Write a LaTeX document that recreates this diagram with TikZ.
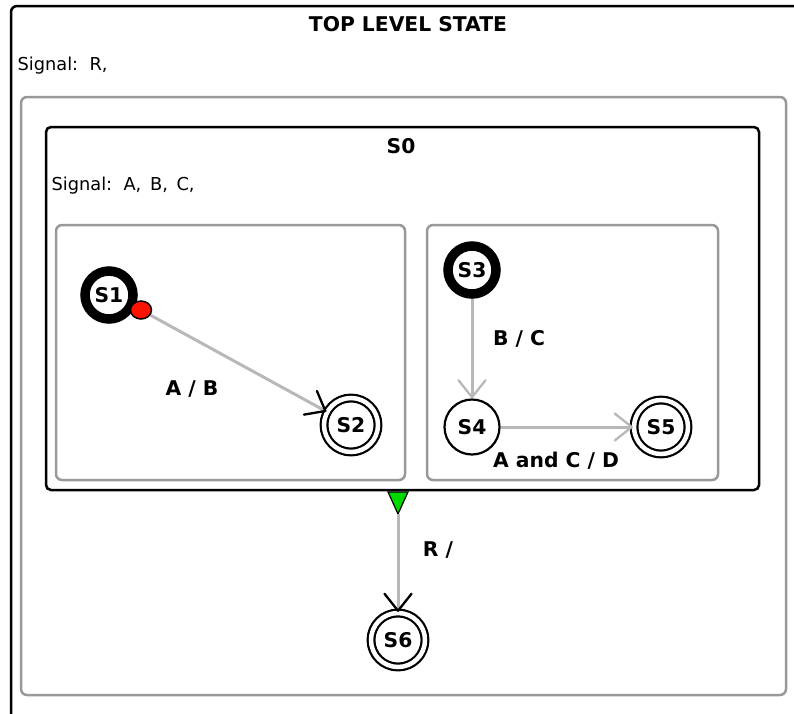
\documentclass[tikz,border=0pt]{standalone}
\usepackage{fontspec}
\setmainfont{DejaVu Sans}
\usetikzlibrary{arrows.meta,shapes.geometric}

\begin{document}
\begin{tikzpicture}[x=1pt, y=-1pt,
    lbl/.style={font=\fontsize{20.3}{24}\selectfont\bfseries},
    sig/.style={font=\fontsize{17.8}{21}\selectfont, anchor=west},
    region/.style={draw=black!40, line width=2.5pt, rounded corners=6pt},
    initst/.style={circle, draw, line width=9.5pt, minimum size=48pt, inner sep=0pt, lbl},
    finst/.style={circle, draw, line width=2.2pt, double, double distance=4.5pt, minimum size=54pt, inner sep=0pt, lbl},
    plainst/.style={circle, draw, line width=2.2pt, minimum size=55pt, inner sep=0pt, lbl},
    trans/.style={draw=black!28, line width=3pt},
    vtip/.tip={Straight Barb[length=17pt, width=27pt, line width=2.3pt, round=false]}]
    \clip (0,0) rectangle (794,713);
    \useasboundingbox (0,0) rectangle (794,713);
    % top level
    \draw[line width=2.5pt, rounded corners=6pt] (11,6) rectangle (820,740);
    \node[lbl] (toptitle) at (408,24) {TOP LEVEL STATE};
    \node[sig] (topsig) at (14,66) {Signal:\ \ R,};
    \draw[region] (21,97) rectangle (786,695);
    % S0
    \draw[line width=2.5pt, rounded corners=5pt] (46,127) rectangle (759,490);
    \node[lbl] (s0title) at (401,146) {S0};
    \node[sig] (s0sig) at (48,186) {Signal:\ \ A,\ \hspace{3pt}B,\ \hspace{3pt}C,};
    \draw[region] (56,225) rectangle (405,480);
    \draw[region] (427,225) rectangle (718,480);
    % left region
    \node[initst] (s1) at (109,295) {S1};
    \node[ellipse, draw, fill=red!85!orange, line width=1.5pt, minimum width=21pt, minimum height=18pt, inner sep=0pt] (s1hist) at (141,310) {};
    \node[finst] (s2) at (351,425) {S2};
    \draw[trans, -{vtip[color=black]}] (s1hist) -- (s2);
    \node[lbl] (ab) at (192,389) {A / B};
    % right region
    \node[initst] (s3) at (472,270) {S3};
    \node[plainst] (s4) at (472,427) {S4};
    \node[finst] (s5) at (661,427) {S5};
    \draw[trans, -{vtip[color=black!28]}] (s3) -- (s4);
    \draw[trans, -{vtip[color=black!28]}] (s4) -- (s5);
    \node[lbl] (bc) at (519,339) {B / C};
    \node[lbl] (acd) at (556,461) {A and C / D};
    % exit to S6
    \draw[fill=green!85!black, line width=1.2pt] (388,492) -- (408,492) -- (398,514) -- cycle;
    \coordinate (s0exit) at (398,514);
    \node[finst] (s6) at (398,640) {S6};
    \draw[trans, -{vtip[color=black]}] (s0exit) -- (s6);
    \node[lbl] (r) at (438,550) {R /};
\end{tikzpicture}
\end{document}
